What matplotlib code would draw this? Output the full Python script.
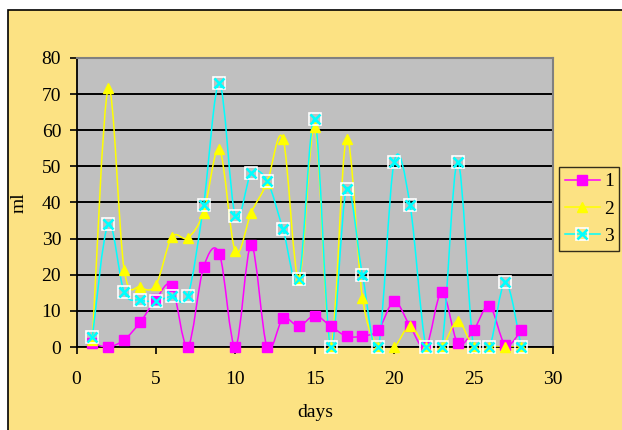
import numpy as np
import matplotlib
matplotlib.use('Agg')
import matplotlib.pyplot as plt
from matplotlib.path import Path
from matplotlib.patches import PathPatch, Rectangle
from matplotlib.lines import Line2D

plt.rcParams['font.family'] = ['Liberation Serif', 'DejaVu Serif']

days = list(range(1, 29))
serie1 = [1, 0, 2, 6.8, 13.2, 16.9, 0, 22.1, 25.8, 0, 28.2, 0, 7.9, 5.8,
          8.7, 5.8, 3.0, 3.0, 4.7, 12.6, 5.8, 0, 15.3, 1.1, 4.7, 11.4, 0.5, 4.7]
serie2 = [2, 71.6, 21.4, 16.6, 17.2, 30.4, 30.2, 37.2, 54.7, 26.5, 37.2, 45.5,
          57.7, 18.8, 61, 0, 57.7, 13.7, 0, 0, 5.8, 0, 0, 7.2, 0, 0, 0, 0]
serie3 = [2.8, 34.1, 15.2, 13.0, 12.7, 14.1, 14.1, 39.3, 73.0, 36.2, 48.1, 46.0,
          32.6, 18.8, 63, 0, 43.7, 20.0, 0, 51.3, 39.3, 0, 0, 51.3, 0, 0, 18.0, 0]

AMARILLO = '#FCE283'


# curva suavizada tipo Excel (Catmull-Rom -> Bezier)
def curva_suave(ax, x, y, color):
    p = np.column_stack([x, y]).astype(float)
    n = len(p)
    verts = [p[0]]
    codes = [Path.MOVETO]
    for i in range(n - 1):
        p0 = p[i - 1] if i > 0 else p[i]
        p3 = p[i + 2] if i + 2 < n else p[i + 1]
        c1 = p[i] + (p[i + 1] - p0) / 6.0
        c2 = p[i + 1] - (p3 - p[i]) / 6.0
        verts += [c1, c2, p[i + 1]]
        codes += [Path.CURVE4] * 3
    patch = PathPatch(Path(verts, codes), facecolor='none', edgecolor=color,
                      lw=1.1, zorder=3, clip_on=True)
    ax.add_patch(patch)


fig = plt.figure(figsize=(6.22, 4.30), dpi=100, facecolor='white')
# fondo amarillo del grafico con borde negro
fig.patches.append(Rectangle((8 / 622, -0.05), 1.1, 1.05 - 10 / 430,
                             transform=fig.transFigure, facecolor=AMARILLO,
                             edgecolor='black', lw=1.2, zorder=-5))

ax = fig.add_axes([76.5 / 622, 1 - 347 / 430, 476.5 / 622, 289 / 430])
ax.set_facecolor('#C0C0C0')
ax.set_xlim(0, 30)
ax.set_ylim(0, 80)
ax.set_xticks(range(0, 31, 5))
ax.set_yticks(range(0, 81, 10))
ax.yaxis.grid(True, color='black', lw=1.4)
ax.set_axisbelow(True)
for s in ['top', 'right']:
    ax.spines[s].set_color('#808080')
    ax.spines[s].set_linewidth(1.5)
for s in ['left', 'bottom']:
    ax.spines[s].set_color('black')
    ax.spines[s].set_linewidth(1.3)
ax.tick_params(direction='out', length=5, width=1.2, labelsize=14, colors='black')
ax.tick_params(axis='x', pad=12)
ax.tick_params(axis='y', pad=6)

curva_suave(ax, days, serie1, '#FF00FF')
curva_suave(ax, days, serie2, '#FFFF00')
curva_suave(ax, days, serie3, '#00FFFF')

h1, = ax.plot(days, serie1, ls='none', marker='s', ms=6.5, color='#FF00FF', zorder=4, clip_on=False)
h2, = ax.plot(days, serie2, ls='none', marker='^', ms=7.5, color='#FFFF00', zorder=4, clip_on=False)
h3a, = ax.plot(days, serie3, ls='none', marker='s', ms=9, mfc='none', mec='white', mew=1.2,
               zorder=5, clip_on=False)
h3b, = ax.plot(days, serie3, ls='none', marker='x', ms=6.5, color='#00FFFF', mew=1.8,
               zorder=6, clip_on=False)

ax.set_xlabel('days', fontsize=14, labelpad=12)
ax.set_ylabel('ml', fontsize=14, labelpad=10)

l1 = Line2D([], [], color='#FF00FF', lw=1.1, marker='s', ms=6.5)
l2 = Line2D([], [], color='#FFFF00', lw=1.1, marker='^', ms=7.5)
l3a = Line2D([], [], color='#00FFFF', lw=1.1)
l3b = Line2D([], [], ls='none', marker='s', ms=9, mfc='none', mec='white', mew=1.2)
l3c = Line2D([], [], ls='none', marker='x', ms=6.5, color='#00FFFF', mew=1.8)
leg = fig.legend([l1, l2, (l3a, l3b, l3c)], ['1', '2', '3'],
                 loc='upper left', bbox_to_anchor=(559 / 622, 1 - 167 / 430),
                 fontsize=14, frameon=True, fancybox=False, handlelength=1.8,
                 borderpad=0.3, labelspacing=0.5, handletextpad=0.2,
                 borderaxespad=0)
leg.get_frame().set_facecolor(AMARILLO)
leg.get_frame().set_edgecolor('black')
leg.get_frame().set_linewidth(1.0)

fig.savefig('out.png', dpi=100, facecolor='white')
